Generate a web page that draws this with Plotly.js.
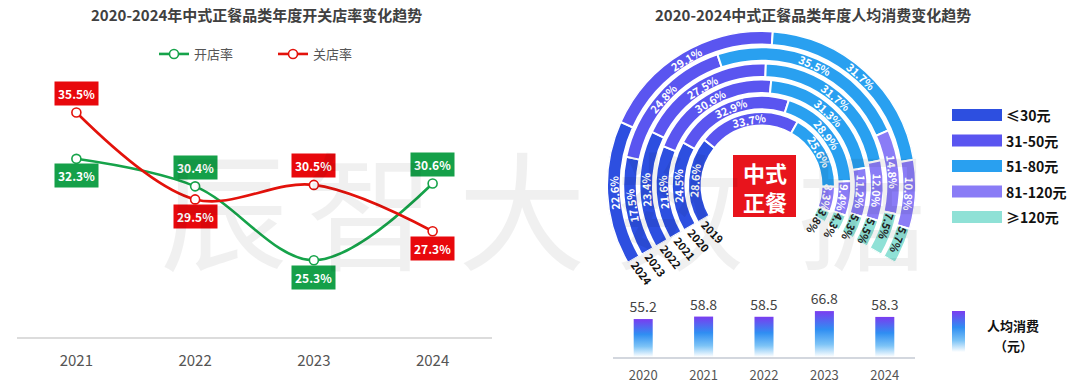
<!DOCTYPE html>
<html><head><meta charset="utf-8">
<script src="https://cdn.plot.ly/plotly-3.0.1.min.js"></script>
<style>html,body{margin:0;padding:0;background:#fff}#chart{width:1080px;height:391px}</style>
</head><body><div id="chart"></div>
<script>
// ---------- data ----------
const years = ['2021', '2022', '2023', '2024'];
const openRate = [32.3, 30.4, 25.3, 30.6];
const closeRate = [35.5, 29.5, 30.5, 27.3];

const ringYears = ['2019', '2020', '2021', '2022', '2023', '2024'];
const priceBands = ['≤30元', '31-50元', '51-80元', '81-120元', '≥120元'];
const shareLe30 = [28.6, 24.5, 21.6, 23.4, 17.5, 22.6];
const share31to50 = [33.7, 32.9, 30.6, 27.5, 24.8, 29.1];
const share51to80 = [25.6, 28.9, 31.3, 31.7, 35.5, 31.7];
const share81to120 = [8.3, 9.4, 11.2, 12.0, 14.8, 10.8];
const shareGe120 = [3.8, 4.3, 5.3, 5.5, 7.5, 5.7];

const spendYears = ['2020', '2021', '2022', '2023', '2024'];
const avgSpend = [55.2, 58.8, 58.5, 66.8, 58.3];

// ---------- style / geometry ----------
const W = 1080, H = 391;
const FONT = '"Noto Sans CJK SC", "Noto Sans", sans-serif';
const GREEN = '#16a34a', RED = '#e3120b';
const bandColors = ['#2d4fe0', '#5a55f0', '#29a0f0', '#8a7cf6', '#8fe1d6'];
const bandText = ['#ffffff', '#ffffff', '#ffffff', '#ffffff', '#222222'];
const CX = 761.5, CY = 185.5, R = 155;
const START = -120, SPAN = 240;
const INNER = 60, PITCH = 16.2, THICK = 13.5;
const px = v => v / W, py = v => 1 - v / H;

const bands = [shareLe30, share31to50, share51to80, share81to120, shareGe120];
const traces = [];
const annotations = [];
const shapes = [];
function paperText(x, y, text, font, extra) {
  annotations.push(Object.assign({xref: 'paper', yref: 'paper', x: px(x), y: py(y), text: text,
    showarrow: false, xanchor: 'center', yanchor: 'middle', font: font}, extra || {}));
}

// ---------- left line chart ----------
traces.push({
  type: 'scatter', x: years, y: openRate, name: '开店率', mode: 'lines+markers',
  line: {color: GREEN, width: 2.6, shape: 'spline', smoothing: 1},
  marker: {size: 9, color: '#fff', line: {color: GREEN, width: 1.6}},
  xaxis: 'x', yaxis: 'y', cliponaxis: false, hoverinfo: 'skip'
});
traces.push({
  type: 'scatter', x: years, y: closeRate, name: '关店率', mode: 'lines+markers',
  line: {color: RED, width: 2.6, shape: 'spline', smoothing: 1},
  marker: {size: 9, color: '#fff', line: {color: RED, width: 1.6}},
  xaxis: 'x', yaxis: 'y', cliponaxis: false, hoverinfo: 'skip'
});
const openPos = ['below', 'above', 'below', 'above'];
const closePos = ['above', 'below', 'above', 'below'];
function rateLabels(vals, pos, color) {
  vals.forEach((v, i) => annotations.push({
    xref: 'x', yref: 'y', x: i, y: v, text: v.toFixed(1) + '%', showarrow: false,
    xanchor: 'center', yanchor: 'middle',
    yshift: pos[i] === 'above' ? 19 : -17, bgcolor: color, borderpad: 3,
    font: {family: FONT, size: 12, color: '#fff', weight: 'bold'}
  }));
}
rateLabels(openRate, openPos, '#15a049');
rateLabels(closeRate, closePos, '#e8080c');

// ---------- ring chart ----------
bands.forEach((band, k) => {
  const thetas = [], widths = [], bases = [], rs = [];
  ringYears.forEach((yr, i) => {
    const total = bands.reduce((s, b) => s + b[i], 0);
    let cum = 0;
    for (let j = 0; j < k; j++) cum += bands[j][i];
    const a0 = START + SPAN * cum / total;
    const w = SPAN * band[i] / total;
    thetas.push(a0 + w / 2); widths.push(w);
    bases.push(INNER + i * PITCH); rs.push(THICK);
    const rr = INNER + i * PITCH + THICK / 2;
    // small end segments: text starts at the segment start and may run past the ring end
    let th = a0 + w / 2;
    if (k === bands.length - 1) th = a0 + (14 / rr) * 180 / Math.PI;
    const a = th * Math.PI / 180;
    paperText(CX + rr * Math.sin(a), CY - rr * Math.cos(a), band[i].toFixed(1) + '%',
      {family: FONT, size: 11, color: bandText[k], weight: 'bold'}, {textangle: th});
  });
  traces.push({
    type: 'barpolar', subplot: 'polar', name: priceBands[k], r: rs, base: bases,
    theta: thetas, width: widths, showlegend: false, hoverinfo: 'skip',
    marker: {color: bandColors[k], line: {color: '#ffffff', width: 2}}
  });
});
// ring year labels
ringYears.forEach((yr, i) => {
  const rr = INNER + i * PITCH + THICK / 2;
  const th = START - (16 / rr) * 180 / Math.PI, a = th * Math.PI / 180;
  paperText(CX + rr * Math.sin(a), CY - rr * Math.cos(a), yr,
    {family: FONT, size: 11, color: '#111', weight: 'bold'}, {textangle: th + 180});
});
// center box
shapes.push({type: 'rect', xref: 'paper', yref: 'paper', x0: px(733), x1: px(796), y0: py(217), y1: py(155),
  fillcolor: '#e8141c', line: {width: 0}});
paperText(764.5, 186, '中式<br>正餐', {family: FONT, size: 22, color: '#fff', weight: 'bold'});
// ring legend
priceBands.forEach((b, k) => {
  const yc = 115 + k * 25.5;
  shapes.push({type: 'rect', xref: 'paper', yref: 'paper', x0: px(952), x1: px(1002), y0: py(yc + 6), y1: py(yc - 6),
    fillcolor: bandColors[k], line: {width: 0}});
  paperText(1004, yc, b, {family: FONT, size: 14, color: '#111', weight: 'bold'}, {xanchor: 'left'});
});

// ---------- bottom bar chart ----------
traces.push({
  type: 'bar', x: spendYears, y: avgSpend, xaxis: 'x2', yaxis: 'y2', width: 0.315,
  marker: {color: '#2f8df2'}, text: avgSpend.map(v => v.toFixed(1)), textposition: 'outside',
  constraintext: 'none', textfont: {family: FONT, size: 14, color: '#444'},
  cliponaxis: false, showlegend: false, hoverinfo: 'skip'
});
const gradShapeIndex = shapes.length;
shapes.push({type: 'rect', xref: 'paper', yref: 'paper', x0: px(952), x1: px(965), y0: py(352), y1: py(311),
  fillcolor: '#2f8df2', line: {width: 0}});
paperText(1013, 325, '人均消费', {family: FONT, size: 13, color: '#111', weight: 'bold'});
paperText(1013, 345, '（元）', {family: FONT, size: 13, color: '#111', weight: 'bold'});

// ---------- titles & watermark ----------
paperText(256, 15, '2020-2024年中式正餐品类年度开关店率变化趋势', {family: FONT, size: 15, color: '#404040', weight: 'bold'});
paperText(813, 15, '2020-2024中式正餐品类年度人均消费变化趋势', {family: FONT, size: 15, color: '#404040', weight: 'bold'});
const wm = ['辰', '智', '大', '数', '据'];
const wmX = [224, 370, 522, 680, 862];
wm.forEach((c, i) => paperText(wmX[i], 205, c, {family: FONT, size: 128, color: 'rgba(0,0,0,0.06)'}));

const layout = {
  width: W, height: H, margin: {l: 0, r: 0, t: 0, b: 0},
  paper_bgcolor: '#fff', plot_bgcolor: 'rgba(0,0,0,0)',
  font: {family: FONT},
  showlegend: true,
  legend: {orientation: 'h', x: px(154), xanchor: 'left', y: py(54), yanchor: 'middle',
    entrywidth: 74, entrywidthmode: 'pixels', bgcolor: 'rgba(0,0,0,0)',
    font: {family: FONT, size: 13, color: '#555'}},
  xaxis: {domain: [px(17), px(492)], type: 'category', range: [-0.5, 3.5], showline: true, linecolor: '#dcdcdc', linewidth: 1.5,
    showgrid: false, zeroline: false, ticks: 'outside', ticklen: 9, tickcolor: 'rgba(0,0,0,0)',
    tickfont: {family: FONT, size: 15, color: '#555'}, fixedrange: true},
  yaxis: {domain: [1 - 337 / H, 1 - 47.3 / H], range: [20, 40], visible: false, fixedrange: true},
  xaxis2: {domain: [px(613), px(915)], anchor: 'y2', type: 'category', range: [-0.5, 4.5], showline: true, linecolor: '#d3d7de',
    linewidth: 1.5, showgrid: false, zeroline: false, ticks: 'outside', ticklen: 6, tickcolor: 'rgba(0,0,0,0)',
    tickfont: {family: FONT, size: 13, color: '#555'}, fixedrange: true},
  yaxis2: {domain: [1 - 357 / H, 1 - 302 / H], anchor: 'x2', range: [0, 80], visible: false, fixedrange: true},
  polar: {
    domain: {x: [px(CX - R), px(CX + R)], y: [py(CY + 0.5 * R), py(CY - R)]},
    sector: [-30, 210], hole: 0, bgcolor: 'rgba(0,0,0,0)', barmode: 'overlay',
    radialaxis: {range: [0, R], visible: false},
    angularaxis: {visible: false, rotation: 90, direction: 'clockwise'}
  },
  shapes: shapes,
  annotations: annotations
};

Plotly.newPlot('chart', traces, layout, {staticPlot: true, displayModeBar: false}).then(gd => {
  const svg = gd.querySelector('.main-svg');
  const ns = 'http://www.w3.org/2000/svg';
  let defs = svg.querySelector('defs');
  if (!defs) { defs = document.createElementNS(ns, 'defs'); svg.insertBefore(defs, svg.firstChild); }
  const lg = document.createElementNS(ns, 'linearGradient');
  lg.setAttribute('id', 'spendGrad');
  lg.setAttribute('x1', '0'); lg.setAttribute('y1', '0'); lg.setAttribute('x2', '0'); lg.setAttribute('y2', '1');
  [['0', '#7a3cf0'], ['0.4', '#2f8ef2'], ['0.72', '#7cc3f6'], ['1', '#ffffff']].forEach(([o, c]) => {
    const s = document.createElementNS(ns, 'stop');
    s.setAttribute('offset', o); s.setAttribute('stop-color', c);
    lg.appendChild(s);
  });
  defs.appendChild(lg);
  gd.querySelectorAll('.cartesianlayer .subplot.x2y2 .barlayer .point path').forEach(p => { p.style.fill = 'url(#spendGrad)'; });
  gd.querySelectorAll('.shapelayer path[data-index="' + gradShapeIndex + '"]').forEach(p => { p.style.fill = 'url(#spendGrad)'; });
});
</script>
</body></html>
